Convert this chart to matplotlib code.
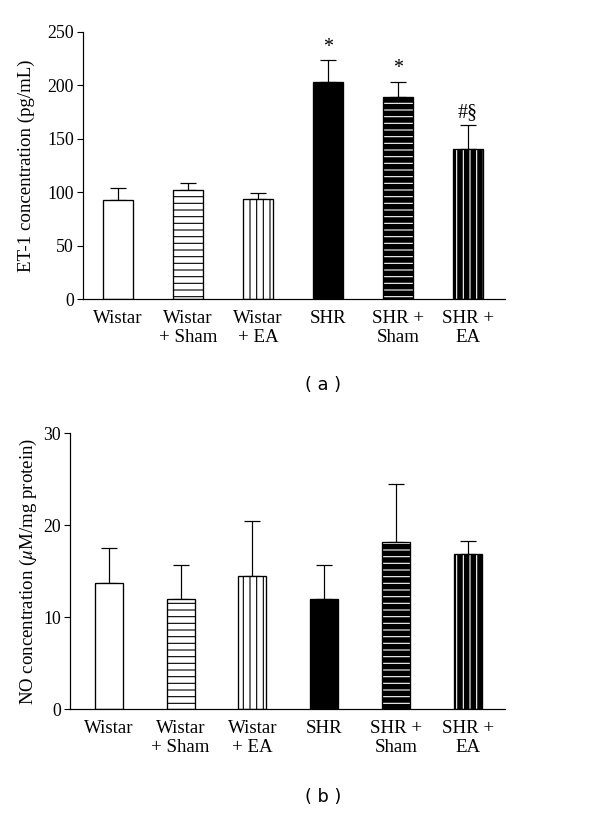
import matplotlib
matplotlib.use("Agg")
import matplotlib.pyplot as plt
import numpy as np

plt.rcParams['font.family'] = ['Liberation Serif', 'DejaVu Serif']
plt.rcParams['mathtext.fontset'] = 'stix'
plt.rcParams['hatch.linewidth'] = 1.0

groups = ["Wistar", "Wistar\n+ Sham", "Wistar\n+ EA", "SHR", "SHR +\nSham", "SHR +\nEA"]

et1_mean = [92.5, 102, 93.5, 203, 189, 140.5]
et1_err = [11.5, 6.5, 6, 21, 14.5, 22.5]
et1_marks = ["", "", "", "*", "*", "#§"]

no_mean = [13.7, 11.95, 14.5, 11.95, 18.2, 16.8]
no_err = [3.8, 3.65, 5.9, 3.7, 6.3, 1.5]

face = ['white', 'white', 'white', 'black', 'black', 'black']
hatch_col = ['black', 'black', 'black', 'black', 'white', 'white']
hatches = [None, '--', '||', None, '--', '||']

DPI = 80
fig = plt.figure(figsize=(600 / DPI, 813 / DPI), dpi=DPI)

axA = fig.add_axes([83 / 600, 1 - 299 / 813, 422 / 600, 267 / 813])
axB = fig.add_axes([70 / 600, 1 - 709 / 813, 435 / 600, 276 / 813])

FS = 17


def draw(ax, means, errs, width, xlim, ylim, yticks, ylabel, labx):
    x = np.arange(len(groups))
    for i in range(len(groups)):
        if hatches[i]:
            ax.bar(x[i], means[i], width, color=face[i], edgecolor=hatch_col[i],
                   hatch=hatches[i], linewidth=0, zorder=2)
        else:
            ax.bar(x[i], means[i], width, color=face[i], linewidth=0, zorder=2)
        ax.bar(x[i], means[i], width, fill=False, edgecolor='black',
               linewidth=1.2, zorder=3)
    ax.errorbar(x, means, yerr=[np.zeros(len(means)), errs], fmt='none',
                ecolor='black', elinewidth=1.1, capsize=6.8, capthick=1.1, zorder=1)
    ax.set_xlim(*xlim)
    ax.set_ylim(*ylim)
    ax.set_yticks(yticks)
    ax.set_xticks(x)
    ax.set_xticklabels(groups, fontsize=FS, linespacing=1.12)
    ax.tick_params(axis='x', length=0, pad=10)
    ax.tick_params(axis='y', length=5, width=1, direction='out', labelsize=FS - 1, pad=3)
    for s in ['top', 'right']:
        ax.spines[s].set_visible(False)
    for s in ['left', 'bottom']:
        ax.spines[s].set_linewidth(1.1)
    ax.set_ylabel(ylabel, fontsize=FS)
    ax.yaxis.set_label_coords(labx, 0.5)
    return x


xa = draw(axA, et1_mean, et1_err, 0.44, (-0.5, 5.53), (0, 250),
          [0, 50, 100, 150, 200, 250], "ET-1 concentration (pg/mL)", -0.114)
for i, m in enumerate(et1_marks):
    if m:
        axA.text(xa[i], et1_mean[i] + et1_err[i] + 3, m, ha='center', va='bottom',
                 fontsize=FS + 1)

draw(axB, no_mean, no_err, 0.39, (-0.54, 5.52), (0, 30),
     [0, 10, 20, 30], r"NO concentration ($\mu$M/mg protein)", -0.072)

fig.text(323 / 600, 1 - 385 / 813, "( a )", ha='center', va='center',
         fontsize=16, family='DejaVu Sans')
fig.text(323 / 600, 1 - 797 / 813, "( b )", ha='center', va='center',
         fontsize=16, family='DejaVu Sans')

fig.savefig("out.png", dpi=DPI)
